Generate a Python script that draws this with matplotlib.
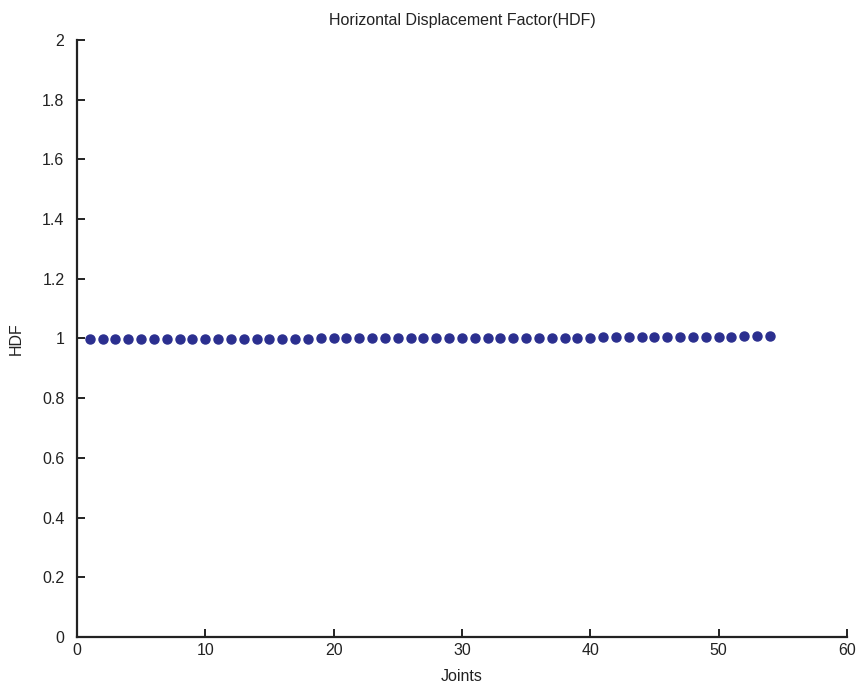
import matplotlib
matplotlib.use("Agg")
import matplotlib.pyplot as plt

plt.rcParams['font.family'] = ['Liberation Sans', 'DejaVu Sans']

joints = list(range(1, 55))
hdf = [0.998, 0.998, 0.998, 0.998, 0.998, 0.998, 0.998, 0.998, 0.998, 0.999,
       0.999, 0.999, 0.999, 0.999, 0.999, 0.999, 0.999, 0.999, 1.000, 1.000,
       1.000, 1.000, 1.000, 1.000, 1.001, 1.001, 1.001, 1.001, 1.001, 1.001,
       1.002, 1.002, 1.002, 1.002, 1.002, 1.003, 1.003, 1.003, 1.003, 1.003,
       1.004, 1.004, 1.004, 1.004, 1.005, 1.005, 1.005, 1.005, 1.006, 1.006,
       1.006, 1.007, 1.007, 1.007]

title = "Horizontal Displacement Factor(HDF)"
xlabel = "Joints"
ylabel = "HDF"
xticks = [0, 10, 20, 30, 40, 50, 60]
yticks = [0, 0.2, 0.4, 0.6, 0.8, 1, 1.2, 1.4, 1.6, 1.8, 2]
ytick_labels = ["0", "0.2", "0.4", "0.6", "0.8", "1", "1.2", "1.4", "1.6", "1.8", "2"]

fig = plt.figure(figsize=(8.59, 6.87), dpi=100)
ax = fig.add_axes([0.0896, 0.0728, 0.8964, 0.869])

ax.plot(joints, hdf, linestyle='none', marker='o', markersize=6.5,
        color='#2b2f8f', markeredgecolor='#2b2f8f')

ax.set_xlim(0, 60)
ax.set_ylim(0, 2)
ax.set_xticks(xticks)
ax.set_yticks(yticks)
ax.set_yticklabels(ytick_labels)

for side in ('top', 'right'):
    ax.spines[side].set_visible(False)
for side in ('left', 'bottom'):
    ax.spines[side].set_color('#222222')
    ax.spines[side].set_linewidth(1.6)

ax.tick_params(direction='in', length=6, width=1.4, color='#222222',
               labelsize=11.5, labelcolor='#222222')
ax.tick_params(axis='x', pad=4)
ax.tick_params(axis='y', pad=9)

ax.set_title(title, fontsize=11.5, color='#222222', pad=11)
ax.set_xlabel(xlabel, fontsize=11.5, color='#222222', labelpad=8)
ax.set_ylabel(ylabel, fontsize=11.5, color='#222222', labelpad=13)

fig.savefig("out.png", dpi=100)
